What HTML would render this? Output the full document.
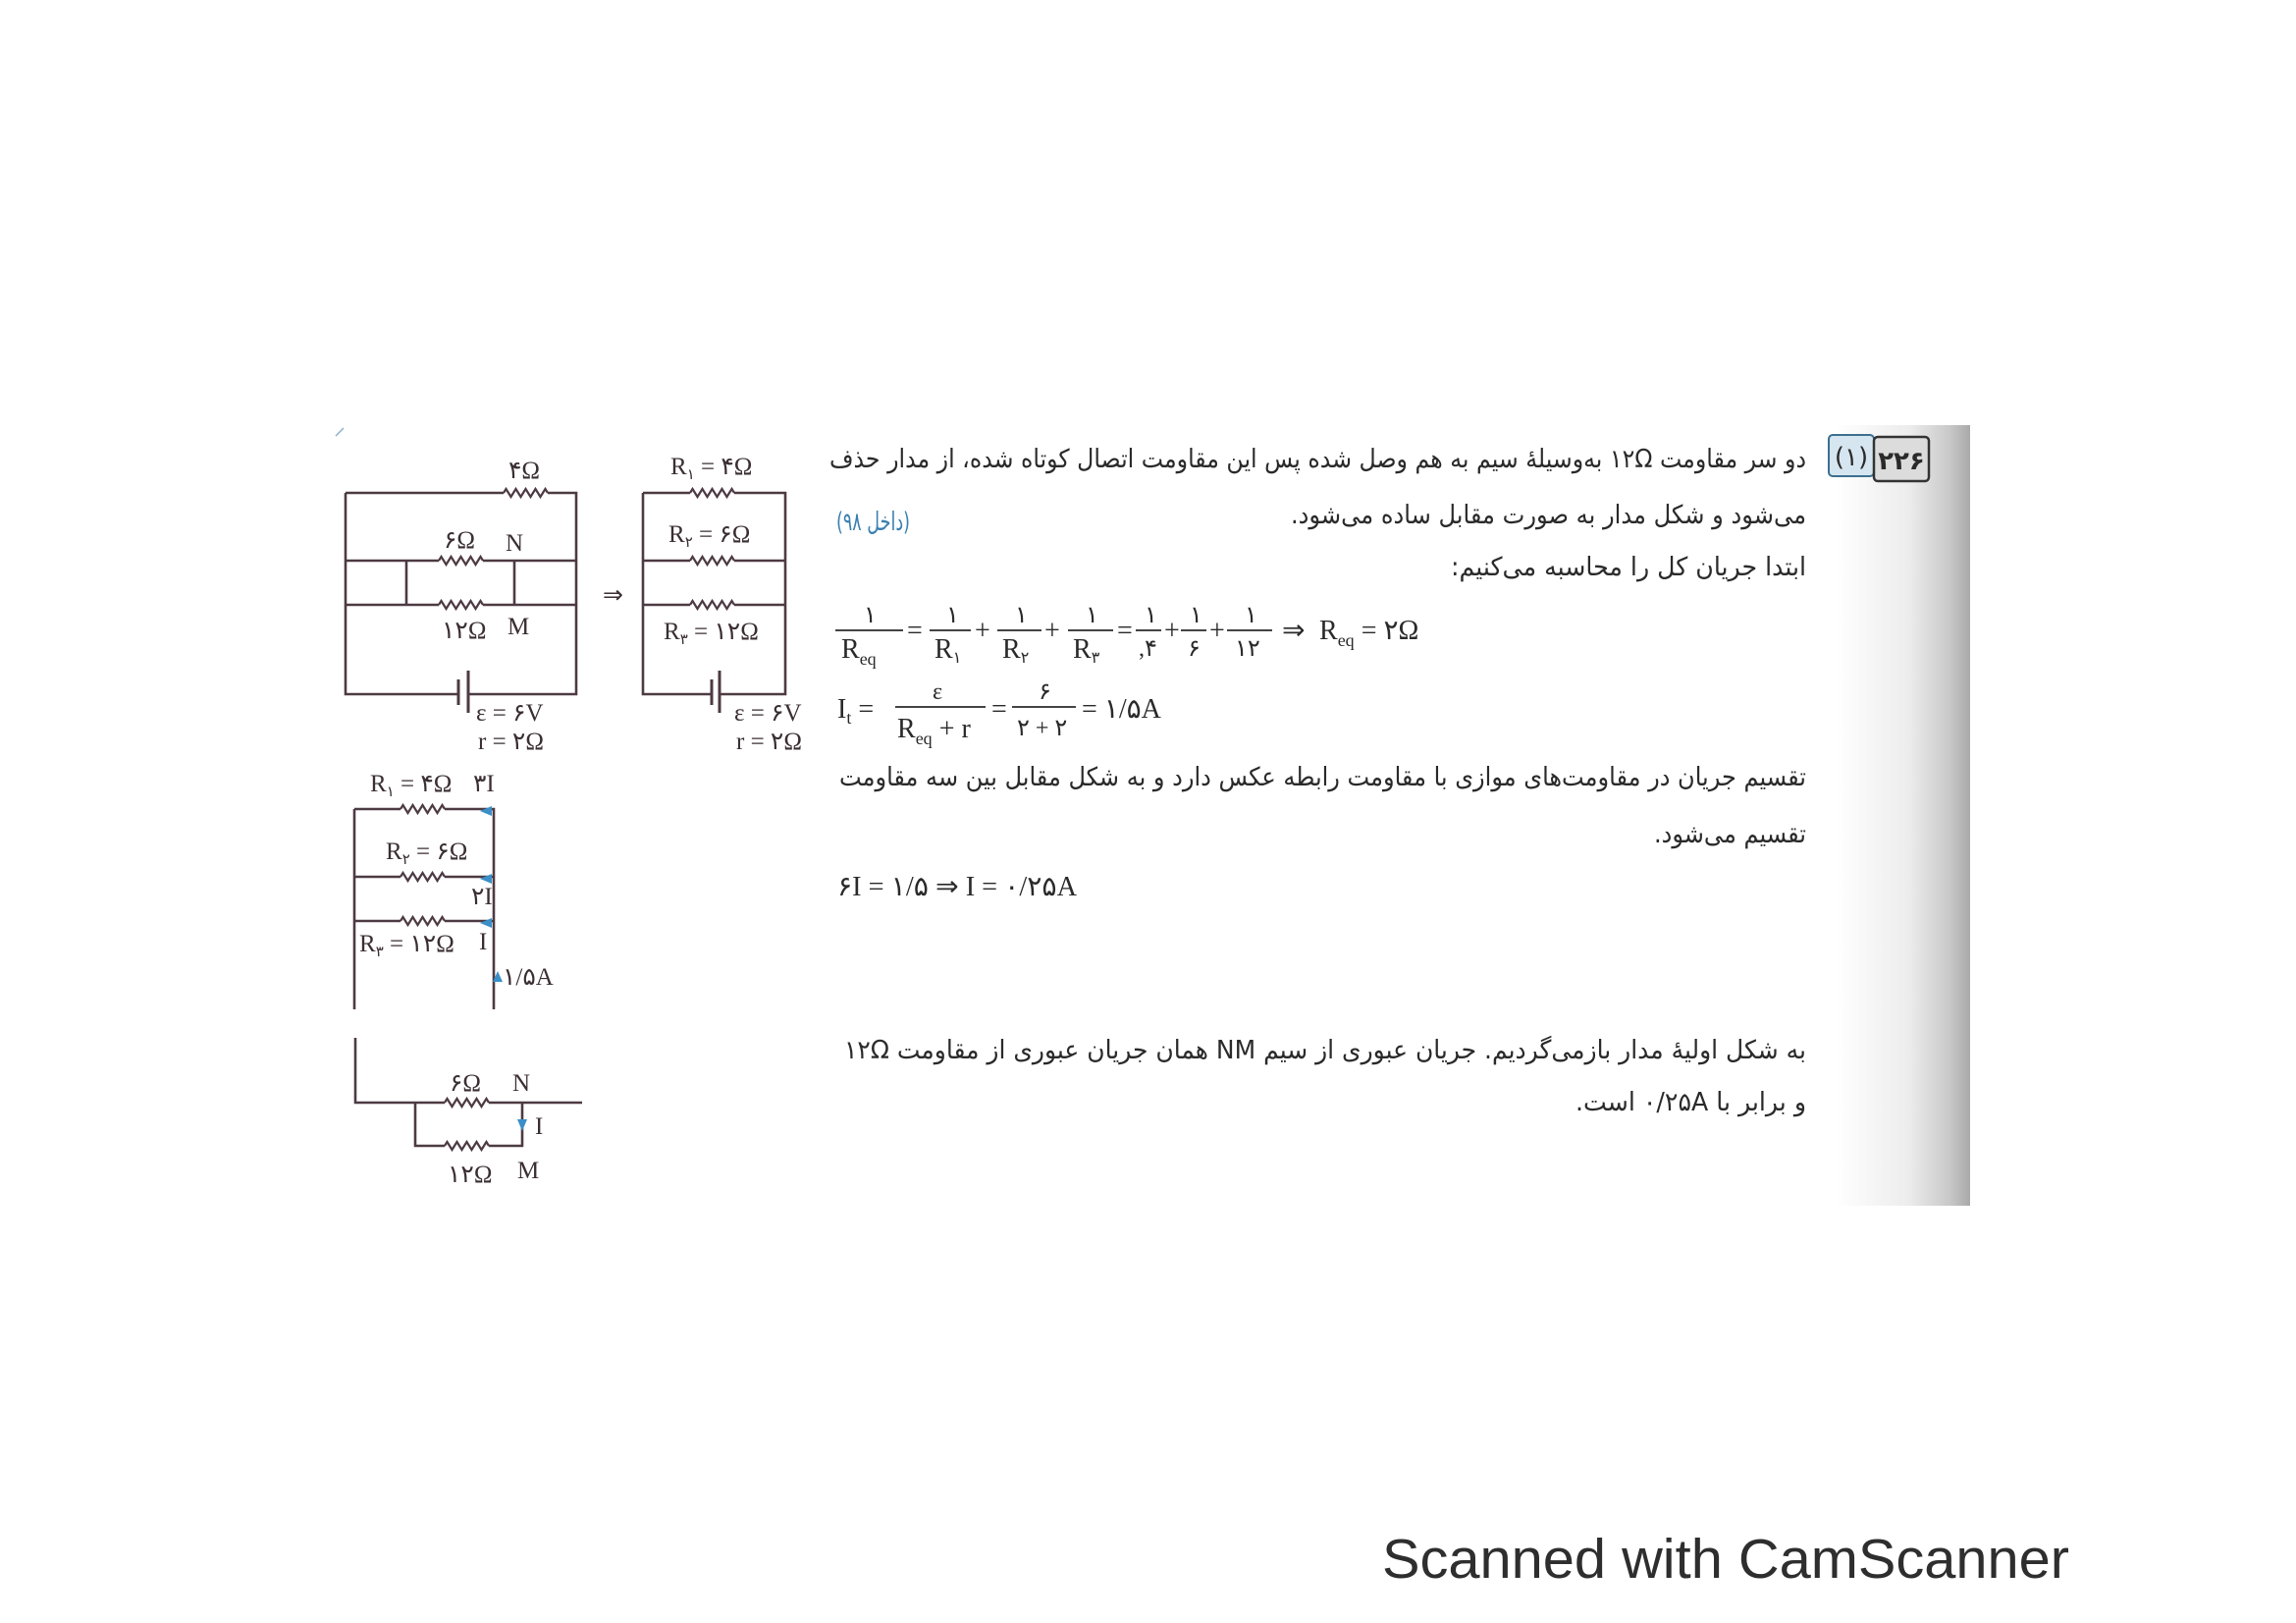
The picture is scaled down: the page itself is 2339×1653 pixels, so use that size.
<!DOCTYPE html>
<html><head><meta charset="utf-8"><style>
html,body{margin:0;padding:0;background:#fff;}
svg{display:block;}
.w{stroke:#4d3a42;stroke-width:2.6;fill:none;}
.t{font-family:"Liberation Serif","DejaVu Sans",serif;fill:#3a2e33;font-size:25px;}
.p{font-family:"DejaVu Sans",sans-serif;fill:#2a2a2a;font-size:26px;}
.m{font-family:"Liberation Serif","DejaVu Sans",serif;fill:#2a2a2a;font-size:28px;}
.ms{font-family:"Liberation Serif","DejaVu Sans",serif;fill:#2a2a2a;font-size:24px;}
</style></head><body>
<svg width="2339" height="1653" viewBox="0 0 2339 1653" xmlns="http://www.w3.org/2000/svg">
<defs>
<linearGradient id="g" x1="0" x2="1" y1="0" y2="0">
<stop offset="0" stop-color="#ffffff"/><stop offset="0.55" stop-color="#ececec"/><stop offset="0.85" stop-color="#c8c8c8"/><stop offset="1" stop-color="#a9a9a9"/>
</linearGradient>
<g id="z"><rect x="0" y="-6" width="45" height="12" fill="#fff"/><path d="M0 0 l2.5 -4 l5 8 l5 -8 l5 8 l5 -8 l5 8 l5 -8 l5 8 l5 -8 l2.5 4" stroke="#4d3a42" stroke-width="2.2" fill="none"/></g>
</defs>
<rect x="1870" y="433" width="137" height="795" fill="url(#g)"/>

<!-- circuit 1 -->
<path class="w" d="M352 502 H587 V707 H477 M467 707 H352 V502 M352 571 H587 M352 616 H587 M414 571 V616 M524 571 V616"/>
<path d="M467 692 V718 M477 683 V726" stroke="#4d3a42" stroke-width="3"/>
<use href="#z" x="513" y="502"/><use href="#z" x="447" y="571"/><use href="#z" x="447" y="616"/>
<text class="t" x="518" y="487">۴Ω</text>
<text class="t" x="452" y="558">۶Ω</text><text class="t" x="515" y="561">N</text>
<text class="t" x="450" y="650">۱۲Ω</text><text class="t" x="517" y="646">M</text>
<text class="t" x="485" y="734">ε = ۶V</text><text class="t" x="487" y="763">r = ۲Ω</text>
<text class="t" x="614" y="614" font-size="26">⇒</text>

<!-- circuit 2 -->
<path class="w" d="M655 502 H800 V707 H733 M725 707 H655 V502 M655 571 H800 M655 616 H800"/>
<path d="M725 692 V718 M733 683 V726" stroke="#4d3a42" stroke-width="3"/>
<use href="#z" x="703" y="502"/><use href="#z" x="703" y="571"/><use href="#z" x="703" y="616"/>
<text class="t" x="683" y="483">R<tspan font-size="15" dy="5">۱</tspan><tspan dy="-5"> = ۴Ω</tspan></text>
<text class="t" x="681" y="552">R<tspan font-size="15" dy="5">۲</tspan><tspan dy="-5"> = ۶Ω</tspan></text>
<text class="t" x="676" y="651">R<tspan font-size="15" dy="5">۳</tspan><tspan dy="-5"> = ۱۲Ω</tspan></text>
<text class="t" x="748" y="734">ε = ۶V</text><text class="t" x="750" y="763">r = ۲Ω</text>

<!-- circuit 3 -->
<path class="w" d="M361 824 H503 V1028 M361 824 V1028 M361 893 H503 M361 938 H503"/>
<use href="#z" x="408" y="824"/><use href="#z" x="408" y="893"/><use href="#z" x="408" y="938"/>
<text class="t" x="377" y="806">R<tspan font-size="15" dy="5">۱</tspan><tspan dy="-5"> = ۴Ω</tspan></text>
<text class="t" x="482" y="806">۳I</text>
<text class="t" x="393" y="875">R<tspan font-size="15" dy="5">۲</tspan><tspan dy="-5"> = ۶Ω</tspan></text>
<text class="t" x="480" y="921">۲I</text>
<text class="t" x="366" y="969">R<tspan font-size="15" dy="5">۳</tspan><tspan dy="-5"> = ۱۲Ω</tspan></text>
<text class="t" x="488" y="967">I</text>
<text class="t" x="512" y="1003">۱/۵A</text>
<path d="M489 826 L501 821 L501 831Z M489 895 L501 890 L501 900Z M489 940 L501 935 L501 945Z M507 989 L502 1000 L512 1000Z" fill="#3a8fc8"/>

<!-- circuit 4 -->
<path class="w" d="M362 1057 V1123 H593 M423 1123 V1167 H532 V1123"/>
<use href="#z" x="453" y="1123"/><use href="#z" x="453" y="1167"/>
<text class="t" x="458" y="1111">۶Ω</text><text class="t" x="522" y="1111">N</text>
<text class="t" x="545" y="1155">I</text>
<path d="M532 1152 L527 1140 L537 1140Z" fill="#3a8fc8"/>
<text class="t" x="456" y="1204">۱۲Ω</text><text class="t" x="527" y="1200">M</text>

<!-- badges -->
<rect x="1863" y="443" width="46" height="42" rx="4" fill="#d6e6f0" stroke="#3d6f90" stroke-width="2"/>
<text class="p" x="1886" y="474" text-anchor="middle" font-size="24">(۱)</text>
<rect x="1909" y="445" width="56" height="45" rx="4" fill="#dcdcdc" stroke="#333" stroke-width="2.5"/>
<text class="p" x="1937" y="478" text-anchor="middle" font-size="25" font-weight="bold">۲۲۶</text>

<!-- paragraph text -->
<text class="p" x="1840" y="476" textLength="995" lengthAdjust="spacingAndGlyphs" direction="rtl" unicode-bidi="embed">دو سر مقاومت ۱۲Ω به‌وسیلهٔ سیم به هم وصل شده پس این مقاومت اتصال کوتاه شده، از مدار حذف</text>
<text class="p" x="1840" y="533" textLength="525" lengthAdjust="spacingAndGlyphs" direction="rtl" unicode-bidi="embed">می‌شود و شکل مدار به صورت مقابل ساده می‌شود.</text>
<text class="p" x="927" y="540" font-size="17" style="fill:#3a7fb0" direction="rtl" unicode-bidi="embed" textLength="75" lengthAdjust="spacingAndGlyphs">(داخل ۹۸)</text>
<text class="p" x="1840" y="586" textLength="362" lengthAdjust="spacingAndGlyphs" direction="rtl" unicode-bidi="embed">ابتدا جریان کل را محاسبه می‌کنیم:</text>

<!-- eq1 -->
<g class="m">
<text x="880" y="634" class="ms">۱</text><line x1="851" y1="642" x2="920" y2="642" stroke="#2a2a2a" stroke-width="1.8"/><text x="857" y="670">R<tspan font-size="18" dy="7">eq</tspan></text>
<text x="924" y="651">=</text>
<text x="964" y="634" class="ms">۱</text><line x1="947" y1="642" x2="989" y2="642" stroke="#2a2a2a" stroke-width="1.8"/><text x="952" y="670">R<tspan font-size="16" dy="5">۱</tspan></text>
<text x="993" y="651">+</text>
<text x="1034" y="634" class="ms">۱</text><line x1="1016" y1="642" x2="1061" y2="642" stroke="#2a2a2a" stroke-width="1.8"/><text x="1021" y="670">R<tspan font-size="16" dy="5">۲</tspan></text>
<text x="1064" y="651">+</text>
<text x="1106" y="634" class="ms">۱</text><line x1="1088" y1="642" x2="1134" y2="642" stroke="#2a2a2a" stroke-width="1.8"/><text x="1093" y="670">R<tspan font-size="16" dy="5">۳</tspan></text>
<text x="1138" y="651">=</text>
<text x="1166" y="634" class="ms">۱</text><line x1="1157" y1="642" x2="1183" y2="642" stroke="#2a2a2a" stroke-width="1.8"/><text x="1160" y="668" class="ms">,۴</text>
<text x="1186" y="651">+</text>
<text x="1212" y="634" class="ms">۱</text><line x1="1203" y1="642" x2="1229" y2="642" stroke="#2a2a2a" stroke-width="1.8"/><text x="1210" y="668" class="ms">۶</text>
<text x="1232" y="651">+</text>
<text x="1268" y="634" class="ms">۱</text><line x1="1250" y1="642" x2="1296" y2="642" stroke="#2a2a2a" stroke-width="1.8"/><text x="1258" y="668" class="ms">۱۲</text>
<text x="1306" y="651">⇒</text>
<text x="1344" y="651">R<tspan font-size="18" dy="7">eq</tspan><tspan dy="-7"> = ۲Ω</tspan></text>
</g>

<!-- eq2 -->
<g class="m">
<text x="853" y="731">I<tspan font-size="18" dy="6">t</tspan><tspan dy="-6"> =</tspan></text>
<text x="950" y="712" class="ms">ε</text><line x1="912" y1="720" x2="1004" y2="720" stroke="#2a2a2a" stroke-width="1.8"/><text x="914" y="751">R<tspan font-size="18" dy="7">eq</tspan><tspan dy="-7"> + r</tspan></text>
<text x="1010" y="731">=</text>
<text x="1058" y="712" class="ms">۶</text><line x1="1031" y1="720" x2="1096" y2="720" stroke="#2a2a2a" stroke-width="1.8"/><text x="1036" y="749" class="ms">۲ + ۲</text>
<text x="1102" y="731">= ۱/۵A</text>
</g>

<text class="p" x="1840" y="800" textLength="985" lengthAdjust="spacingAndGlyphs" direction="rtl" unicode-bidi="embed">تقسیم جریان در مقاومت‌های موازی با مقاومت رابطه عکس دارد و به شکل مقابل بین سه مقاومت</text>
<text class="p" x="1840" y="858" textLength="155" lengthAdjust="spacingAndGlyphs" direction="rtl" unicode-bidi="embed">تقسیم می‌شود.</text>
<text class="m" x="853" y="912" textLength="244" lengthAdjust="spacingAndGlyphs">۶I = ۱/۵ ⇒ I = ۰/۲۵A</text>

<text class="p" x="1840" y="1078" textLength="980" lengthAdjust="spacingAndGlyphs" direction="rtl" unicode-bidi="embed">به شکل اولیهٔ مدار بازمی‌گردیم. جریان عبوری از سیم NM همان جریان عبوری از مقاومت ۱۲Ω</text>
<text class="p" x="1840" y="1131" textLength="235" lengthAdjust="spacingAndGlyphs" direction="rtl" unicode-bidi="embed">و برابر با ۰/۲۵A است.</text>

<path d="M342 444 L350 436" stroke="#8fb0c8" stroke-width="1.5"/>

<text x="1408" y="1607" font-family="Liberation Sans, sans-serif" font-size="57" fill="#2e2e2e" textLength="700" lengthAdjust="spacingAndGlyphs">Scanned with CamScanner</text>
</svg>
</body></html>
